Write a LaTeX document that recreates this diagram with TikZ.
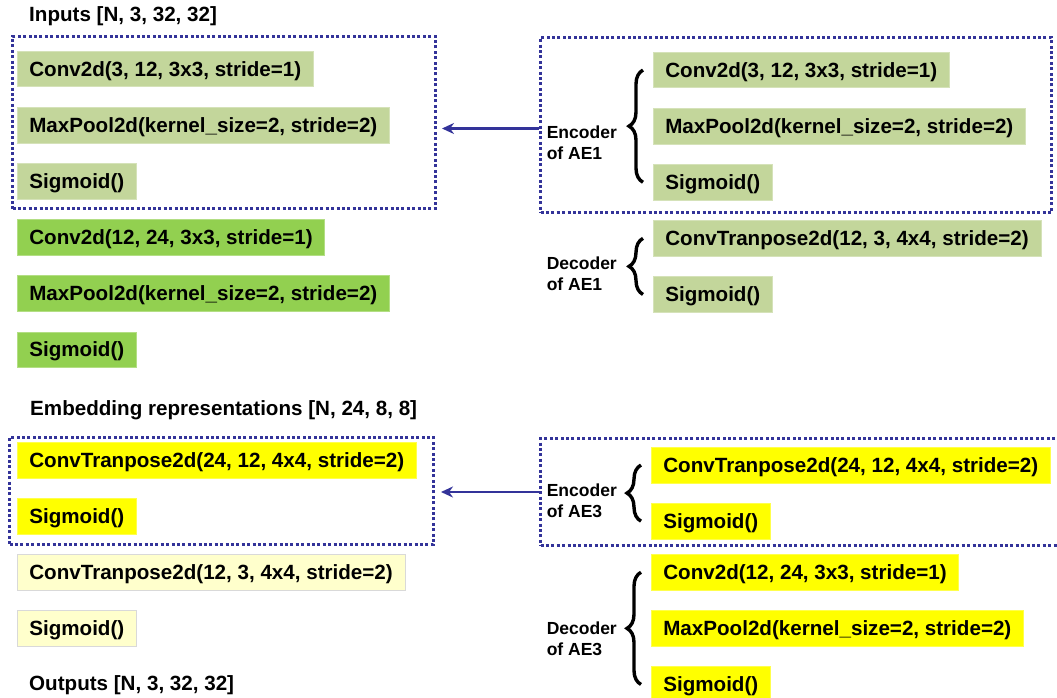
\documentclass[tikz,border=0pt]{standalone}
\usepackage{fontspec}
\setmainfont{Liberation Sans}
\usetikzlibrary{positioning,calc,arrows.meta,decorations.pathreplacing}

\definecolor{olivebox}{HTML}{C3D69B}
\definecolor{greenbox}{HTML}{92D050}
\definecolor{yellowbox}{HTML}{FFFF00}
\definecolor{paleyellow}{HTML}{FFFFCC}
\definecolor{dotblue}{HTML}{333399}

\begin{document}
\begin{tikzpicture}[x=1pt, y=1pt,
    layerbox/.style={rectangle, fill=#1, draw=#1!70!white, line width=0.6pt,
      anchor=north west, minimum height=35.5pt, inner xsep=12pt, inner ysep=0pt,
      text height=14.8pt, text depth=0pt, font=\fontsize{20.6}{24}\selectfont\bfseries},
    stack/.style={below=20pt of #1.south west, anchor=north west},
    heading/.style={anchor=west, inner sep=0pt, text height=14.8pt, text depth=0pt,
      font=\fontsize{20.6}{24}\selectfont\bfseries},
    partlbl/.style={anchor=east, align=left, inner sep=0pt,
      font=\fontsize{17.5}{21}\selectfont\bfseries},
    grpbox/.style={draw=dotblue, line width=3pt, dash pattern=on 3pt off 2.4pt,
      anchor=north west, inner sep=0pt},
    brace/.style={decorate, decoration={brace, amplitude=14pt}, line width=3.4pt},
    flow/.style={->, draw=dotblue, line width=2.8pt},
    >={Stealth[length=12pt, width=11pt]}]

  \useasboundingbox (0,0) rectangle (1057,-698);

  % left column: the stacked model
  \node[heading] (inputs) at (29,-14) {Inputs [N, 3, 32, 32]};
  \node[layerbox=olivebox] (a1) at (17,-51) {Conv2d(3, 12, 3x3, stride=1)};
  \node[layerbox=olivebox, stack=a1] (a2) {MaxPool2d(kernel\_size=2, stride=2)};
  \node[layerbox=olivebox, stack=a2] (a3) {Sigmoid()};
  \node[layerbox=greenbox, stack=a3] (b1) {Conv2d(12, 24, 3x3, stride=1)};
  \node[layerbox=greenbox, stack=b1] (b2) {MaxPool2d(kernel\_size=2, stride=2)};
  \node[layerbox=greenbox, stack=b2] (b3) {Sigmoid()};
  \node[heading] (embed) at (30,-408) {Embedding representations [N, 24, 8, 8]};
  \node[layerbox=yellowbox] (c1) at (17,-442) {ConvTranpose2d(24, 12, 4x4, stride=2)};
  \node[layerbox=yellowbox, stack=c1] (c2) {Sigmoid()};
  \node[layerbox=paleyellow, draw=black!15, stack=c2] (d1) {ConvTranpose2d(12, 3, 4x4, stride=2)};
  \node[layerbox=paleyellow, draw=black!15, stack=d1] (d2) {Sigmoid()};
  \node[heading] (outputs) at (29,-683) {Outputs [N, 3, 32, 32]};

  \node[grpbox, minimum width=423pt, minimum height=172pt] (grp1) at (11,-35) {};
  \node[grpbox, minimum width=424pt, minimum height=107pt] (grp2) at (8,-436) {};

  % right column: AE1
  \node[layerbox=olivebox] (e1) at (653,-52) {Conv2d(3, 12, 3x3, stride=1)};
  \node[layerbox=olivebox, stack=e1] (e2) {MaxPool2d(kernel\_size=2, stride=2)};
  \node[layerbox=olivebox, stack=e2] (e3) {Sigmoid()};
  \node[layerbox=olivebox, stack=e3] (f1) {ConvTranpose2d(12, 3, 4x4, stride=2)};
  \node[layerbox=olivebox, stack=f1] (f2) {Sigmoid()};
  \node[grpbox, minimum width=511pt, minimum height=175pt] (ae1) at (539,-36) {};

  \draw[brace] ([xshift=-10pt]e3.west) -- ([xshift=-10pt]e1.west);
  \draw[brace] ([xshift=-10pt]f2.west) -- ([xshift=-10pt]f1.west);
  \node[partlbl] (enc1) at ($(e1.west)!0.5!(e3.west)+(-36,-17)$) {Encoder\\of AE1};
  \node[partlbl] (dec1) at ($(f1.west)!0.5!(f2.west)+(-36,-7)$) {Decoder\\of AE1};

  % right column: AE3
  \node[layerbox=yellowbox] (g1) at (651,-447) {ConvTranpose2d(24, 12, 4x4, stride=2)};
  \node[layerbox=yellowbox, stack=g1] (g2) {Sigmoid()};
  \node[layerbox=yellowbox, below=15pt of g2.south west, anchor=north west] (h1) {Conv2d(12, 24, 3x3, stride=1)};
  \node[layerbox=yellowbox, stack=h1] (h2) {MaxPool2d(kernel\_size=2, stride=2)};
  \node[layerbox=yellowbox, stack=h2] (h3) {Sigmoid()};
  \node[grpbox, minimum width=525pt, minimum height=107pt] (ae3) at (539,-437) {};

  \draw[brace] ([xshift=-10pt]g2.west) -- ([xshift=-10pt]g1.west);
  \draw[brace] ([xshift=-10pt]h3.west) -- ([xshift=-10pt]h1.west);
  \node[partlbl] (enc3) at ($(g1.west)!0.5!(g2.west)+(-34,-8)$) {Encoder\\of AE3};
  \node[partlbl] (dec3) at ($(h1.west)!0.5!(h3.west)+(-34,-10)$) {Decoder\\of AE3};

  \draw[flow] ([yshift=-3.5pt]ae1.west) -- ($(grp1.east |- ae1.west)+(5,-3.5)$);
  \draw[flow] (ae3.west) -- ($(grp2.east |- ae3.west)+(6,0)$);
\end{tikzpicture}
\end{document}
